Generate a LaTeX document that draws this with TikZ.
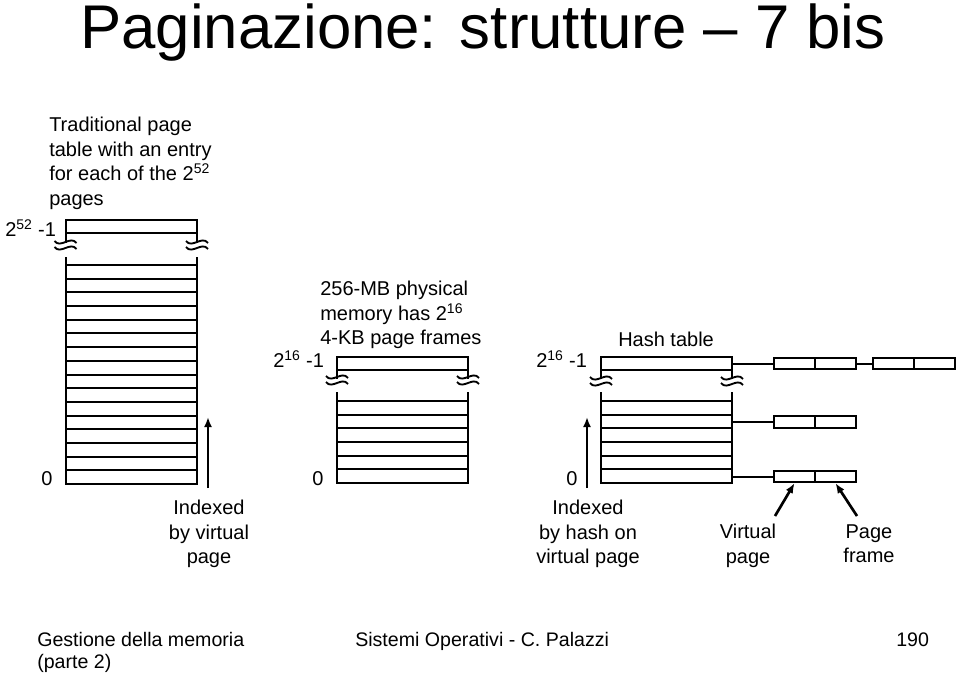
\documentclass[tikz,border=0pt]{standalone}
\usepackage{fontspec}
\setmainfont{Liberation Sans}
\usetikzlibrary{arrows.meta}

\tikzset{
  lbl/.style={inner sep=0pt, font=\fontsize{15}{18.4}\selectfont},
  foot/.style={inner sep=0pt, font=\fontsize{14.7}{16.5}\selectfont},
  tbl/.style={line width=1.5pt},
  cell/.style={draw, line width=1.5pt, minimum width=30.75pt, minimum height=8.5pt, inner sep=0pt},
  up/.style={line width=2pt, -{Latex[length=7.5pt,width=6pt]}},
  brk/.pic={
    \draw[line width=1.4pt] (-11,0) .. controls (-5,-8) and (5,6) .. (11,-2);
    \draw[line width=1.4pt] (-11,6) .. controls (-5,-2) and (5,12) .. (11,4);
  }
}

\begin{document}
\begin{tikzpicture}[x=0.75pt,y=0.75pt,yscale=-1,xscale=1]
\useasboundingbox (0,0) rectangle (960,676);

% Title
\node[anchor=base west, inner sep=0pt, font=\fontsize{46.3}{50}\selectfont] (title) at (80,48) {Paginazione: strutture – 7 bis};

%Shape: traditional page table
\draw[tbl] (65.5,243) -- (65.5,220) -- (197,220) -- (197,243) ;
\draw[tbl] (65.5,233) -- (197,233) ;
\draw[tbl] (65.5,257) -- (65.5,484) -- (197,484) -- (197,257) ;
\foreach \i in {0,...,15} \draw[tbl] (65.5,265+13.6875*\i) -- (197,265+13.6875*\i) ;
\pic at (65.5,247) {brk};
\pic at (197,247) {brk};

%Shape: physical memory
\draw[tbl] (337,379) -- (337,357) -- (468,357) -- (468,379) ;
\draw[tbl] (337,370) -- (468,370) ;
\draw[tbl] (337,392) -- (337,483) -- (468,483) -- (468,392) ;
\foreach \i in {0,...,5} \draw[tbl] (337,401+13.667*\i) -- (468,401+13.667*\i) ;
\pic at (337,382) {brk};
\pic at (468,382) {brk};

%Shape: hash table
\draw[tbl] (601,379) -- (601,357) -- (732,357) -- (732,379) ;
\draw[tbl] (601,370) -- (732,370) ;
\draw[tbl] (601,392) -- (601,483) -- (732,483) -- (732,392) ;
\foreach \i in {0,...,5} \draw[tbl] (601,401+13.667*\i) -- (732,401+13.667*\i) ;
\pic at (601,383) {brk};
\pic at (732,383) {brk};

% Chains
\coordinate (hA) at (732,363.5);
\coordinate (hB) at (732,422);
\coordinate (hC) at (732,476.5);
\node[cell] (vA) at (794.5,363.5) {};
\node[cell] (fA) at (835.5,363.5) {};
\node[cell] (vA2) at (893.5,363.5) {};
\node[cell] (fA2) at (934.5,363.5) {};
\node[cell] (vB) at (794.5,422) {};
\node[cell] (fB) at (835.5,422) {};
\node[cell] (vC) at (794.5,476.5) {};
\node[cell] (fC) at (835.5,476.5) {};
\draw[tbl] (hA) -- (vA.west) ;
\draw[tbl] (fA.east) -- (vA2.west) ;
\draw[tbl] (hB) -- (vB.west) ;
\draw[tbl] (hC) -- (vC.west) ;

% Arrows
\coordinate (aL0) at (208,488);
\coordinate (aL1) at (208,417);
\coordinate (aR0) at (587,488);
\coordinate (aR1) at (587,417);
\coordinate (vtail) at (775,516);
\coordinate (ftail) at (857,516);
\draw[up] (aL0) -- (aL1) ;
\draw[up] (aR0) -- (aR1) ;
\draw[up] (vtail) -- (vC.south) ;
\draw[up] (ftail) -- (fC.south) ;

% Text Node
\node[lbl, anchor=north west, align=left] (trad) at (49,117) {Traditional page\\table with an entry\\for each of the 2\textsuperscript{52}\\pages};
\node[lbl, anchor=base west] (topL) at (5,236) {2\textsuperscript{52} -1};
\node[lbl, anchor=base] (zeroL) at (47,485) {0};
\node[lbl, anchor=north, align=center] (idxL) at (209,500) {Indexed\\by virtual\\page};

\node[lbl, anchor=north west, align=left] (phys) at (320,281) {256-MB physical\\memory has 2\textsuperscript{16}\\4-KB page frames};
\node[lbl, anchor=base west] (topM) at (273,367) {2\textsuperscript{16} -1};
\node[lbl, anchor=base] (zeroM) at (318,485) {0};

\node[lbl, anchor=base west] (hash) at (618,346) {Hash table};
\node[lbl, anchor=base west] (topR) at (536,367) {2\textsuperscript{16} -1};
\node[lbl, anchor=base] (zeroR) at (572,485) {0};
\node[lbl, anchor=north, align=center] (idxR) at (588,500) {Indexed\\by hash on\\virtual page};
\node[lbl, anchor=north, align=center] (vpage) at (748,524) {Virtual\\page};
\node[lbl, anchor=north, align=center] (pframe) at (869,524) {Page\\frame};

% Footer
\node[foot, anchor=north west, align=left] (course) at (37,632) {Gestione della memoria\\(parte 2)};
\node[foot, anchor=base west] (author) at (355,646) {Sistemi Operativi - C. Palazzi};
\node[foot, anchor=base west] (pageno) at (896,646) {190};

\end{tikzpicture}
\end{document}
